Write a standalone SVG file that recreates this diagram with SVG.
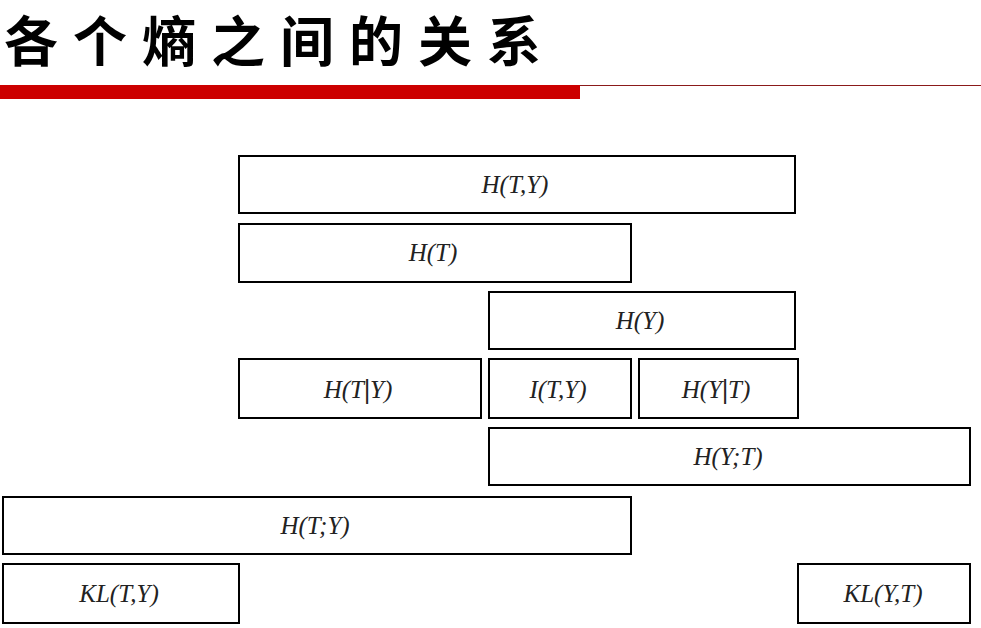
<svg xmlns="http://www.w3.org/2000/svg" width="981" height="628" viewBox="0 0 981 628">
<style>
.b{fill:#fff;stroke:#000;stroke-width:2}
.t{font-family:"Liberation Serif",serif;font-style:italic;font-size:25px;text-anchor:middle;fill:#222}
.bar{font-style:normal;font-weight:bold;font-size:28px}
</style>
<rect width="981" height="628" fill="#fff"/>
<text x="4" y="62" font-family="Noto Sans CJK SC,sans-serif" font-weight="700" font-size="54" letter-spacing="15" fill="#000">各个熵之间的关系</text>
<rect x="0" y="85" width="580" height="14" fill="#cc0000"/>
<line x1="580" y1="85.5" x2="981" y2="85.5" stroke="#8b1a1a" stroke-width="1"/>
<g id="connectors"/>
<g id="HTY"><rect class="b" x="239" y="156" width="556" height="57"/><text class="t" x="515" y="193">H(T,Y)</text></g>
<g id="HT"><rect class="b" x="239" y="224" width="392" height="58"/><text class="t" x="433" y="261">H(T)</text></g>
<g id="HY"><rect class="b" x="489" y="292" width="306" height="57"/><text class="t" x="640" y="329">H(Y)</text></g>
<g id="HTgY"><rect class="b" x="239" y="359" width="242" height="59"/><text class="t" x="358" y="398">H(T<tspan class="bar">|</tspan>Y)</text></g>
<g id="ITY"><rect class="b" x="489" y="359" width="142" height="59"/><text class="t" x="558" y="398">I(T,Y)</text></g>
<g id="HYgT"><rect class="b" x="639" y="359" width="159" height="59"/><text class="t" x="716" y="398">H(Y<tspan class="bar">|</tspan>T)</text></g>
<g id="HYsT"><rect class="b" x="489" y="428" width="481" height="57"/><text class="t" x="728" y="465">H(Y;T)</text></g>
<g id="HTsY"><rect class="b" x="3" y="497" width="628" height="57"/><text class="t" x="315" y="534">H(T;Y)</text></g>
<g id="KLTY"><rect class="b" x="3" y="564" width="236" height="59"/><text class="t" x="119" y="602">KL(T,Y)</text></g>
<g id="KLYT"><rect class="b" x="798" y="564" width="172" height="59"/><text class="t" x="883" y="602">KL(Y,T)</text></g>
</svg>
